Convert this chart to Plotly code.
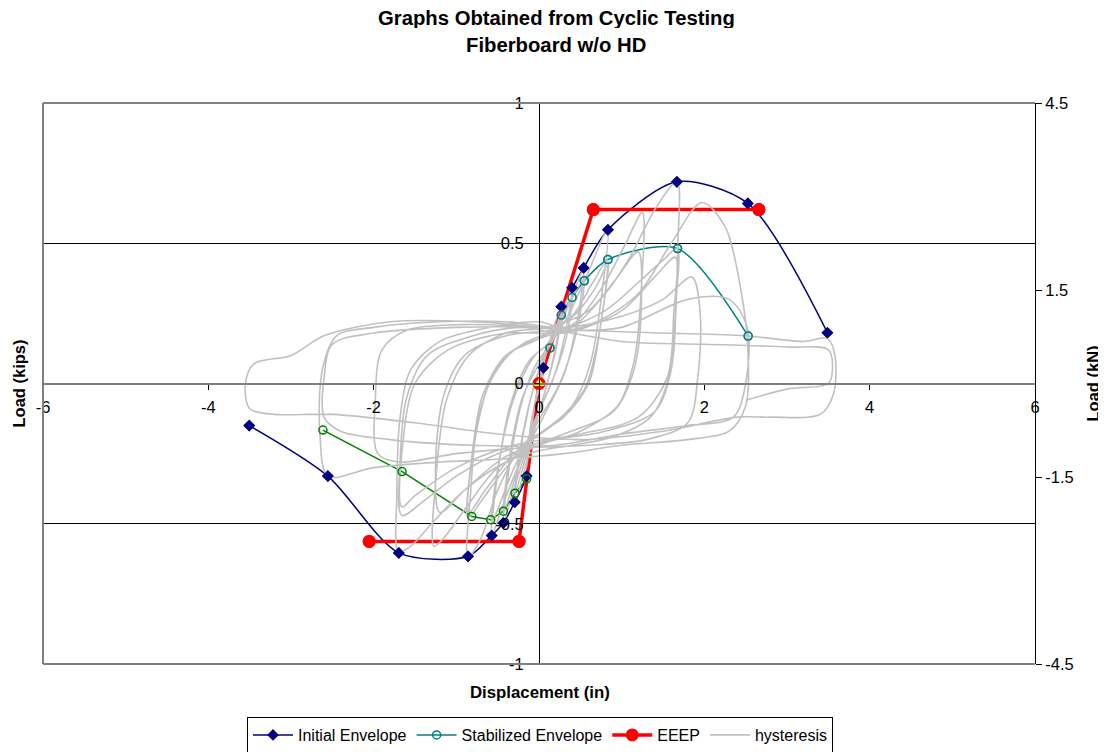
import plotly.graph_objects as go

# ---------------- data ----------------
# Initial envelope (positive and negative branches), inches / kips
init_pos_x = [0.0, 0.052, 0.27, 0.40, 0.54, 0.834, 1.668, 2.526, 3.489]
init_pos_y = [0.0, 0.056, 0.274, 0.341, 0.412, 0.548, 0.719, 0.642, 0.181]
init_neg_x = [0.0, -0.149, -0.294, -0.431, -0.572, -0.858, -1.696, -2.554, -3.505]
init_neg_y = [0.0, -0.330, -0.423, -0.497, -0.542, -0.616, -0.604, -0.330, -0.150]

# Stabilized envelope
stab_pos_x = [0.0, 0.133, 0.27, 0.40, 0.548, 0.834, 1.676, 2.53]
stab_pos_y = [0.0, 0.127, 0.244, 0.307, 0.366, 0.442, 0.481, 0.169]
stab_neg_x = [-0.149, -0.29, -0.431, -0.584, -0.813, -1.656, -2.614]
stab_neg_y = [-0.340, -0.391, -0.455, -0.486, -0.474, -0.314, -0.166]

# EEEP bilinear curves
eeep_pos_x = [0.0, 0.657, 2.66]
eeep_pos_y = [0.0, 0.62, 0.62]
eeep_neg_x = [0.0, -0.242, -2.054]
eeep_neg_y = [0.0, -0.563, -0.563]

# Hysteresis record (cycles)
hyst_x = [
    0.0, 0.05, 0.02, -0.05, -0.15, -0.10, 0.0,
    0.10, 0.20, 0.27, 0.22, 0.10, 0.0, -0.15, -0.29, -0.24, -0.12, 0.0,
    0.12, 0.27, 0.21, 0.08, -0.10, -0.29, -0.22, -0.08, 0.02,
    0.15, 0.30, 0.40, 0.33, 0.20, 0.0, -0.20, -0.35, -0.43, -0.36, -0.22, -0.05,
    0.15, 0.30, 0.40, 0.32, 0.15, -0.05, -0.25, -0.43, -0.35, -0.20, 0.0,
    0.20, 0.40, 0.54, 0.46, 0.30, 0.05, -0.20, -0.42, -0.57, -0.50, -0.35, -0.12, 0.10,
    0.30, 0.54, 0.45, 0.25, 0.0, -0.30, -0.57, -0.48, -0.30, -0.05, 0.15,
    0.35, 0.60, 0.83, 0.76, 0.62, 0.40, 0.10, -0.20, -0.50, -0.70, -0.86, -0.83, -0.73, -0.50, -0.20, 0.10,
    0.40, 0.65, 0.83, 0.75, 0.60, 0.30, 0.0, -0.40, -0.70, -0.86, -0.82, -0.68, -0.40, 0.0,
    0.45, 0.70, 0.82, 0.74, 0.55, 0.20, -0.30, -0.65, -0.85, -0.80, -0.60, -0.30, 0.10,
    0.45, 0.80, 1.05, 1.25, 1.24, 1.15, 0.95, 0.50, 0.0, -0.50, -0.90, -1.15, -1.27, -1.25, -1.12, -0.85,
    -0.40, 0.10,
    0.60, 0.95, 1.20, 1.24, 1.15, 0.90, 0.30, -0.40, -0.90, -1.20, -1.25, -1.15, -0.90, -0.40, 0.20,
    0.40, 0.80, 1.10, 1.40, 1.67, 1.68, 1.64, 1.55, 1.35, 0.90, 0.40, 0.0, -0.40, -0.90, -1.30, -1.55, -1.70,
    -1.72, -1.68, -1.55, -1.20, -0.60, 0.0, 0.30,
    0.80, 1.20, 1.50, 1.67, 1.66, 1.60, 1.40, 0.80, 0.20, -0.50, -1.00, -1.40, -1.66, -1.68, -1.60, -1.35,
    -0.80, -0.20, 0.30,
    1.00, 1.40, 1.65, 1.63, 1.55, 1.20, 0.50, -0.30, -1.00, -1.50, -1.66, -1.65, -1.50, -1.10, -0.40, 0.20,
    0.70, 1.20, 1.60, 1.97, 2.25, 2.45, 2.53, 2.50, 2.30, 1.80, 1.00, 0.30, -0.50, -1.20, -2.00, -2.55,
    -2.65, -2.62, -2.45, -2.00, -1.20, -0.40, 0.30,
    1.00, 1.50, 1.85, 1.95, 1.92, 1.80, 1.30, 0.60, -0.20, -1.00, -1.70, -1.95, -1.98, -1.90, -1.60,
    -0.90, 0.0, 0.40,
    1.00, 1.80, 2.30, 2.52, 2.50, 2.35, 1.80, 1.00, 0.20, -0.80, -1.80, -2.40, -2.60, -2.60, -2.50, -2.00,
    -1.00, 0.0, 0.50,
    1.50, 2.50, 3.20, 3.49, 3.58, 3.56, 3.40, 2.80, 2.40, 1.50, 0.50, -0.50, -1.50, -2.50, -3.20, -3.50,
    -3.55, -3.45, -3.00, -2.60, -1.80, -0.80, 0.0,
    1.00, 2.00, 3.00, 3.50, 3.55, 3.50, 3.00, 2.50,
]
hyst_y = [
    0.0, 0.05, 0.0, -0.08, -0.30, -0.15, 0.0,
    0.12, 0.22, 0.27, 0.16, 0.0, -0.10, -0.28, -0.42, -0.27, -0.08, 0.05,
    0.13, 0.25, 0.13, -0.02, -0.20, -0.39, -0.22, -0.03, 0.06,
    0.15, 0.27, 0.34, 0.20, 0.04, -0.10, -0.28, -0.42, -0.50, -0.30, -0.08, 0.06,
    0.15, 0.25, 0.31, 0.15, 0.0, -0.13, -0.30, -0.46, -0.25, -0.05, 0.07,
    0.17, 0.31, 0.41, 0.22, 0.03, -0.12, -0.26, -0.42, -0.54, -0.32, -0.08, 0.08, 0.14,
    0.25, 0.37, 0.18, 0.0, -0.13, -0.30, -0.49, -0.27, -0.05, 0.10, 0.15,
    0.24, 0.40, 0.55, 0.32, 0.07, -0.08, -0.16, -0.22, -0.38, -0.55, -0.62, -0.40, -0.12, 0.06, 0.14, 0.18,
    0.24, 0.36, 0.44, 0.22, 0.0, -0.12, -0.18, -0.30, -0.42, -0.48, -0.28, -0.04, 0.10, 0.16,
    0.25, 0.35, 0.42, 0.20, -0.02, -0.14, -0.25, -0.38, -0.46, -0.25, 0.00, 0.12, 0.17,
    0.22, 0.36, 0.50, 0.61, 0.35, 0.08, -0.08, -0.17, -0.22, -0.30, -0.45, -0.55, -0.58, -0.35, -0.06, 0.10,
    0.18, 0.20,
    0.26, 0.38, 0.47, 0.30, 0.05, -0.10, -0.18, -0.26, -0.38, -0.46, -0.28, -0.04, 0.10, 0.17, 0.19,
    0.20, 0.32, 0.45, 0.62, 0.72, 0.50, 0.20, 0.0, -0.12, -0.19, -0.22, -0.24, -0.28, -0.38, -0.50, -0.58, -0.60,
    -0.40, -0.12, 0.05, 0.15, 0.20, 0.22, 0.20,
    0.26, 0.36, 0.44, 0.48, 0.30, 0.05, -0.10, -0.17, -0.20, -0.25, -0.33, -0.42, -0.47, -0.28, -0.05, 0.10,
    0.17, 0.20, 0.18,
    0.26, 0.38, 0.45, 0.25, 0.02, -0.12, -0.18, -0.22, -0.30, -0.40, -0.44, -0.22, 0.0, 0.12, 0.18, 0.18,
    0.22, 0.32, 0.50, 0.645, 0.56, 0.32, 0.10, -0.08, -0.17, -0.20, -0.22, -0.25, -0.27, -0.28, -0.30, -0.33,
    -0.18, 0.05, 0.17, 0.20, 0.22, 0.22, 0.20,
    0.24, 0.30, 0.38, 0.25, 0.02, -0.14, -0.20, -0.22, -0.23, -0.25, -0.28, -0.25, -0.06, 0.12, 0.19,
    0.21, 0.20, 0.19,
    0.20, 0.30, 0.30, 0.20, 0.0, -0.12, -0.15, -0.18, -0.22, -0.22, -0.20, -0.17, -0.12, 0.02, 0.14, 0.18,
    0.20, 0.20, 0.19,
    0.18, 0.17, 0.15, 0.16, 0.10, -0.04, -0.11, -0.12, -0.12, -0.17, -0.20, -0.18, -0.14, -0.11, -0.11, -0.09,
    0.0, 0.07, 0.10, 0.17, 0.22, 0.22, 0.20,
    0.15, 0.14, 0.13, 0.12, 0.05, 0.0, -0.02, -0.06,
]

# axis ticks
x_ticks = [-6, -4, -2, 0, 2, 4, 6]
kips_ticks = [-1, -0.5, 0, 0.5, 1]
kn_ticks = [-4.5, -1.5, 1.5, 4.5]

NAVY = "#000080"
TEAL = "#008080"
GREEN = "#008000"
RED = "#FF0000"
GRAY = "#C0C0C0"
FONT = "Liberation Sans, Arial, sans-serif"

# the page body adds an 8px offset, so the figure is laid out 8px smaller
PAGE_OFF = 8
FIG_W, FIG_H = 1106 - PAGE_OFF, 752 - PAGE_OFF
PL, PT, PW, PH = 43, 103, 992, 561          # plot box in page pixels


def px(xp):
    return (xp - PL) / PW


def py(yp):
    return 1 - (yp - PT) / PH


fig = go.Figure()

# envelope lines (drawn under the hysteresis, like the original)
fig.add_trace(go.Scatter(
    x=init_neg_x[::-1] + init_pos_x[1:], y=init_neg_y[::-1] + init_pos_y[1:],
    mode="lines+markers", name="Initial Envelope", legendrank=1,
    line=dict(color=NAVY, width=1.5, shape="spline", smoothing=0.8),
    marker=dict(symbol="diamond", size=9, color=NAVY)))
fig.add_trace(go.Scatter(
    x=stab_pos_x, y=stab_pos_y, mode="lines+markers", name="Stabilized Envelope", legendrank=2,
    line=dict(color=TEAL, width=1.5, shape="spline", smoothing=0.8),
    marker=dict(symbol="circle-open", size=8, color=TEAL, line=dict(width=1.5))))
fig.add_trace(go.Scatter(
    x=stab_neg_x, y=stab_neg_y, mode="lines", showlegend=False,
    line=dict(color=GREEN, width=1.5)))
fig.add_trace(go.Scatter(
    x=eeep_neg_x[::-1] + eeep_pos_x[1:], y=eeep_neg_y[::-1] + eeep_pos_y[1:],
    mode="lines+markers", name="EEEP", legendrank=3,
    line=dict(color=RED, width=3.5),
    marker=dict(symbol="circle", size=13, color=RED)))

# hysteresis
fig.add_trace(go.Scatter(
    x=hyst_x, y=hyst_y, mode="lines", name="hysteresis", legendrank=4,
    line=dict(color=GRAY, width=1.6, shape="spline", smoothing=0.9)))

# markers on top of everything
fig.add_trace(go.Scatter(
    x=init_neg_x[1:] + init_pos_x[1:], y=init_neg_y[1:] + init_pos_y[1:], mode="markers",
    showlegend=False, marker=dict(symbol="diamond", size=9, color=NAVY)))
fig.add_trace(go.Scatter(
    x=stab_pos_x[1:], y=stab_pos_y[1:], mode="markers", showlegend=False,
    marker=dict(symbol="circle-open", size=8, color=TEAL, line=dict(width=1.5))))
fig.add_trace(go.Scatter(
    x=stab_neg_x, y=stab_neg_y, mode="markers", showlegend=False,
    marker=dict(symbol="circle-open", size=8, color=GREEN, line=dict(width=1.5))))
fig.add_trace(go.Scatter(
    x=eeep_neg_x[::-1] + eeep_pos_x[1:], y=eeep_neg_y[::-1] + eeep_pos_y[1:], mode="markers",
    showlegend=False, marker=dict(symbol="circle", size=13, color=RED)))
fig.add_trace(go.Scatter(
    x=[eeep_pos_x[0]], y=[eeep_pos_y[0]], mode="markers", showlegend=False,
    marker=dict(symbol="triangle-up", size=10, color="#FFFF00")))

# right axis (kN) carrier
fig.add_trace(go.Scatter(x=[None], y=[None], yaxis="y2", showlegend=False, hoverinfo="skip"))

TICKFONT = dict(size=16.5, family=FONT, color="black")

fig.update_layout(
    width=FIG_W, height=FIG_H,
    margin=dict(l=PL - PAGE_OFF, r=FIG_W - (PL - PAGE_OFF) - PW, t=PT - PAGE_OFF,
                b=FIG_H - (PT - PAGE_OFF) - PH, autoexpand=False),
    paper_bgcolor="white", plot_bgcolor="white",
    font=dict(family=FONT, size=15, color="black"),
    showlegend=True,
    legend=dict(orientation="h", x=px(540), xanchor="center",
                y=1 - (717 - PAGE_OFF) / FIG_H, yanchor="top",
                yref="container", bordercolor="black", borderwidth=1,
                font=dict(size=16, family=FONT), itemwidth=40, tracegroupgap=0),
    xaxis=dict(range=[-6, 6], tickvals=x_ticks, ticktext=[str(v) for v in x_ticks],
               anchor="free", position=0.5, showline=True, linecolor="#808080", linewidth=2,
               ticks="outside", ticklen=5, tickcolor="black", showgrid=False, zeroline=False,
               tickfont=TICKFONT, ticklabelstandoff=4, ticklabeloverflow="allow",
               automargin=False, fixedrange=True),
    yaxis=dict(range=[-1, 1], tickvals=kips_ticks, ticktext=[str(v) for v in kips_ticks],
               anchor="free", position=0.5, showline=True, linecolor="black", linewidth=1,
               ticks="outside", ticklen=5, tickcolor="black",
               showgrid=True, gridcolor="black", gridwidth=1, zeroline=False,
               tickfont=TICKFONT, ticklabelstandoff=7, ticklabeloverflow="allow",
               automargin=False),
    yaxis2=dict(range=[-4.5, 4.5], tickvals=kn_ticks, ticktext=[str(v) for v in kn_ticks],
                overlaying="y", side="right", anchor="free", position=1.0,
                showline=True, linecolor="black", linewidth=1, ticks="outside", ticklen=6,
                tickcolor="black", showgrid=False, zeroline=False, tickfont=TICKFONT,
                ticklabelstandoff=0, ticklabeloverflow="allow", automargin=False),
    shapes=[
        dict(type="line", xref="paper", yref="paper", x0=0, y0=0, x1=0, y1=1,
             line=dict(color="#808080", width=2), layer="above"),
        dict(type="line", xref="paper", yref="paper", x0=0, y0=1, x1=1, y1=1,
             line=dict(color="#808080", width=2), layer="above"),
        dict(type="line", xref="paper", yref="paper", x0=0, y0=0, x1=1, y1=0,
             line=dict(color="#808080", width=2), layer="above"),
    ],
    annotations=[
        dict(text="<b>Graphs Obtained from Cyclic Testing</b>", xref="paper", yref="paper",
             x=px(556), y=py(18), xanchor="center", yanchor="middle", height=20,
             valign="middle", showarrow=False, font=dict(size=20.3, family=FONT)),
        dict(text="<b>Fiberboard w/o HD</b>", xref="paper", yref="paper",
             x=px(556), y=py(45), xanchor="center", yanchor="middle", height=22,
             valign="middle", showarrow=False, font=dict(size=20.3, family=FONT)),
        dict(text="<b>Displacement (in)</b>", xref="paper", yref="paper", x=px(540),
             y=py(692), xanchor="center", yanchor="middle", showarrow=False,
             font=dict(size=16.8, family=FONT)),
        dict(text="<b>Load (kips)</b>", xref="paper", yref="paper", x=px(18), y=0.5,
             xanchor="center", yanchor="middle", textangle=-90, showarrow=False,
             font=dict(size=16.5, family=FONT)),
        dict(text="<b>Load (kN)</b>", xref="paper", yref="paper", x=px(1092), y=0.5,
             xanchor="center", yanchor="middle", textangle=-90, showarrow=False,
             font=dict(size=16.5, family=FONT)),
    ],
)

fig.write_html("out.html")
